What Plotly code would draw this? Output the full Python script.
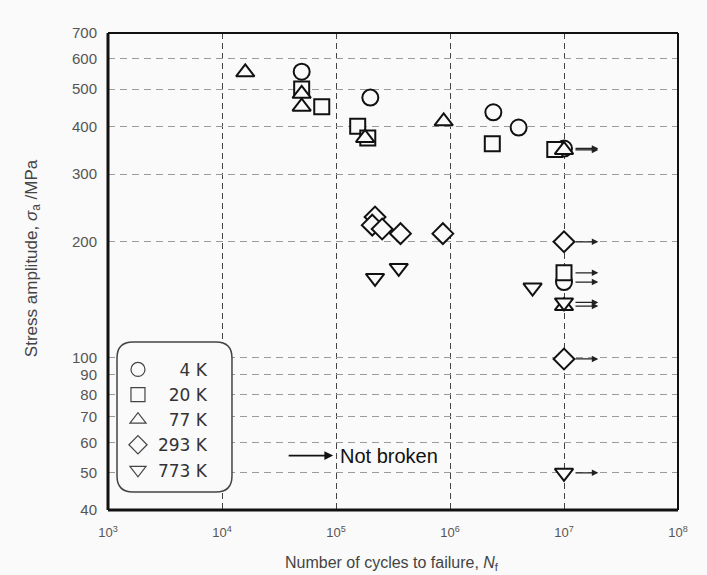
import math
import plotly.graph_objects as go

# ---------------- data ----------------
series_names = ["4 K", "20 K", "77 K", "293 K", "773 K"]
legend_labels = ["\u2007\u20074 K", "\u200720 K", "\u200777 K", "293 K", "773 K"]
symbols = ["circle", "square", "triangle-up", "diamond", "triangle-down"]

cycles_4K = [5.0e4, 2.0e5, 2.4e6, 4.0e6, 1.0e7, 1.0e7]
stress_4K = [555, 475, 435, 397, 350, 157]
runout_4K = [0, 0, 0, 0, 1, 1]

cycles_20K = [5.0e4, 7.5e4, 1.55e5, 1.9e5, 2.35e6, 8.3e6, 1.0e7]
stress_20K = [500, 450, 400, 373, 360, 348, 166]
runout_20K = [0, 0, 0, 0, 0, 0, 1]

cycles_77K = [1.6e4, 5.0e4, 5.0e4, 1.8e5, 8.8e5, 1.0e7, 1.0e7]
stress_77K = [553, 486, 450, 373, 412, 347, 136]
runout_77K = [0, 0, 0, 0, 0, 1, 1]

cycles_293K = [2.2e5, 2.08e5, 2.54e5, 3.68e5, 8.66e5, 1.0e7, 1.0e7]
stress_293K = [232, 221, 216, 210, 210, 200, 99]
runout_293K = [0, 0, 0, 0, 0, 1, 1]

cycles_773K = [2.2e5, 3.55e5, 5.3e6, 1.0e7, 1.0e7]
stress_773K = [161, 171, 152, 139, 50]
runout_773K = [0, 0, 0, 1, 1]

x_tickvals = [1e3, 1e4, 1e5, 1e6, 1e7, 1e8]
x_ticktext = ["10<sup>3</sup>", "10<sup>4</sup>", "10<sup>5</sup>", "10<sup>6</sup>",
              "10<sup>7</sup>", "10<sup>8</sup>"]
y_tickvals = [40, 50, 60, 70, 80, 90, 100, 200, 300, 400, 500, 600, 700]

all_cycles = [cycles_4K, cycles_20K, cycles_77K, cycles_293K, cycles_773K]
all_stress = [stress_4K, stress_20K, stress_77K, stress_293K, stress_773K]
all_runout = [runout_4K, runout_20K, runout_77K, runout_293K, runout_773K]

# ---------------- style ----------------
BG = "#fafafa"
FONT = "Liberation Sans, Arial, Helvetica, sans-serif"
marker_sizes = [16, 15, 16, 16, 16]

fig = go.Figure()

for name, sym, size, xs, ys in zip(series_names, symbols, marker_sizes, all_cycles, all_stress):
    fig.add_trace(go.Scatter(
        x=xs, y=ys, mode="markers", name=name, showlegend=False,
        marker=dict(symbol=sym, size=size, color=BG,
                    line=dict(color="#111111", width=2)),
        hoverinfo="x+y+name",
    ))

# legend-only entries (thin grey symbols as in the reference)
for label, sym in zip(legend_labels, symbols):
    fig.add_trace(go.Scatter(
        x=[None], y=[None], mode="markers", name=label, showlegend=True,
        marker=dict(symbol=sym, size=14, color=BG,
                    line=dict(color="#444444", width=1.2)),
    ))

annotations = []
# run-out ("not broken") arrows
for xs, ys, rs in zip(all_cycles, all_stress, all_runout):
    for n, s, r in zip(xs, ys, rs):
        if r:
            annotations.append(dict(
                x=math.log10(n * 2.0), y=math.log10(s),
                ax=math.log10(n), ay=math.log10(s),
                xref="x", yref="y", axref="x", ayref="y",
                text="", showarrow=True, arrowhead=2, arrowsize=1.0,
                arrowwidth=1.3, arrowcolor="#222222", startstandoff=10,
            ))

# "Not broken" key
annotations.append(dict(
    x=0.395, y=0.114, xref="paper", yref="paper", ax=-46, ay=0,
    text="", showarrow=True, arrowhead=2, arrowsize=1.1, arrowwidth=1.6,
    arrowcolor="#111111",
))
annotations.append(dict(
    x=0.404, y=0.114, xref="paper", yref="paper", xanchor="left", yanchor="middle",
    text="Not broken", showarrow=False,
    font=dict(family=FONT, size=20, color="#111111"),
))

# axis titles
annotations.append(dict(
    x=-0.1316, y=0.528, xref="paper", yref="paper", textangle=-90,
    xanchor="center", yanchor="middle", showarrow=False,
    text="Stress amplitude, <i>σ</i><sub>a</sub> /MPa",
    font=dict(family=FONT, size=17, color="#444444"),
))
annotations.append(dict(
    x=0.498, y=-0.113, xref="paper", yref="paper",
    xanchor="center", yanchor="middle", showarrow=False,
    text="Number of cycles to failure, <i>N</i><sub>f</sub>",
    font=dict(family=FONT, size=16, color="#444444"),
))

# legend rounded box (paper coords)
x0, x1 = 0.0158, 0.2175
yb, yt = 0.0377, 0.3522
rx, ry = 0.028, 0.0335
box_path = (
    f"M {x0+rx},{yb} L {x1-rx},{yb} Q {x1},{yb} {x1},{yb+ry} "
    f"L {x1},{yt-ry} Q {x1},{yt} {x1-rx},{yt} "
    f"L {x0+rx},{yt} Q {x0},{yt} {x0},{yt-ry} "
    f"L {x0},{yb+ry} Q {x0},{yb} {x0+rx},{yb} Z"
)
shapes = [
    dict(type="path", path=box_path, xref="paper", yref="paper",
         line=dict(color="#444444", width=1.5), fillcolor=BG, layer="above"),
    # frame
    dict(type="line", xref="x domain", yref="y domain", x0=0, x1=0, y0=0, y1=1,
         line=dict(color="#111111", width=3), layer="above"),
    dict(type="line", xref="x domain", yref="y domain", x0=0, x1=1, y0=0, y1=0,
         line=dict(color="#111111", width=3), layer="above"),
    dict(type="line", xref="x domain", yref="y domain", x0=0, x1=1, y0=1, y1=1,
         line=dict(color="#111111", width=2), layer="above"),
    dict(type="line", xref="x domain", yref="y domain", x0=1, x1=1, y0=0, y1=1,
         line=dict(color="#111111", width=2), layer="above"),
]

fig.update_layout(
    width=707, height=575,
    margin=dict(l=108, r=29, t=33, b=65),
    paper_bgcolor=BG, plot_bgcolor=BG,
    font=dict(family=FONT, color="#555555"),
    showlegend=True,
    legend=dict(
        x=0.0175, y=0.3314, xanchor="left", yanchor="top",
        bgcolor="rgba(0,0,0,0)", borderwidth=0,
        font=dict(family="DejaVu Sans, sans-serif", size=17, color="#333333"),
        itemclick=False, itemdoubleclick=False, tracegroupgap=0,
    ),
    annotations=annotations,
    shapes=shapes,
)

fig.update_xaxes(
    type="log", range=[3, 8],
    tickvals=x_tickvals, ticktext=x_ticktext,
    tickfont=dict(family=FONT, size=13, color="#555555"),
    showgrid=True, gridcolor="#444444", gridwidth=1, griddash="6px,4px",
    zeroline=False, showline=False, ticks="", ticklabelstandoff=13,
)
fig.update_yaxes(
    type="log", range=[math.log10(40), math.log10(700)],
    tickvals=y_tickvals, ticktext=[str(v) for v in y_tickvals],
    tickfont=dict(family=FONT, size=15, color="#555555"),
    showgrid=True, gridcolor="#9a9a9a", gridwidth=1.2, griddash="7px,5px",
    zeroline=False, showline=False, ticks="", ticklabelstandoff=10,
)

fig.write_html("out.html")
